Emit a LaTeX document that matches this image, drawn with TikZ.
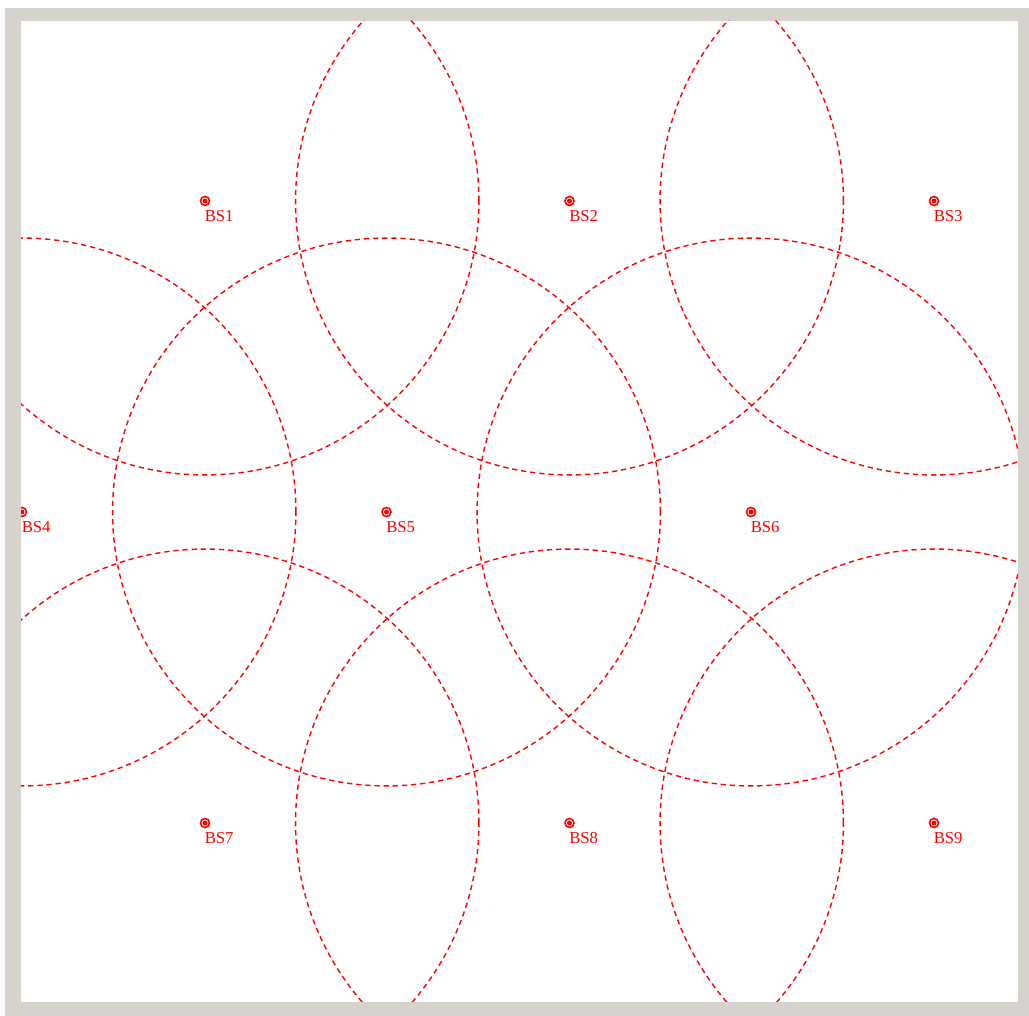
\documentclass[tikz,border=0pt]{standalone}
\usepackage{fontspec}
\setmainfont{Liberation Serif}
\usepackage{xcolor}
\definecolor{FrameGray}{RGB}{214, 211, 206}
\definecolor{CellRed}{RGB}{255, 0, 0}
\usepackage{tikz}
\usetikzlibrary{positioning, calc}

\tikzset{
    bs/.style={circle, draw=CellRed, line width=0.9pt, minimum size=0.18cm, inner sep=0pt,
        path picture={\fill[CellRed] (path picture bounding box.center) circle (0.05cm);}},
    bslabel/.style={text=CellRed, inner sep=0pt, anchor=north west,
        font=\fontsize{9.5}{11}\selectfont},
    coverage/.style={draw=CellRed, line width=0.8pt, dash pattern=on 3pt off 2.2pt}
}

\begin{document}
\begin{tikzpicture}[x=0.02cm, y=-0.02cm]
    \useasboundingbox (0,0) rectangle (1029,1016);
    \fill[white] (0,0) rectangle (1029,1016);
    \fill[FrameGray] (5,8) rectangle (1029,1016);
    \fill[white] (21,21) rectangle (1018,1002);
    \begin{scope}
        \clip (21,21) rectangle (1018,1002);
        % base stations
        \foreach \row/\y/\xo in {0/201/205, 1/512/22, 2/823/205} {
            \foreach \col in {0,1,2} {
                \pgfmathtruncatemacro{\n}{3*\row+\col+1}
                \pgfmathsetmacro{\x}{\xo+364.5*\col}
                \node[bs] (bs\n) at (\x,\y) {};
                \node[bslabel] (lbl\n) at ([xshift=-0.3pt, yshift=-2.4pt]bs\n.south) {BS\n};
            }
        }
        % coverage circles
        \foreach \n in {1,...,9} {
            \draw[coverage] (bs\n.center) circle [radius=5.48cm];
        }
    \end{scope}
\end{tikzpicture}
\end{document}
